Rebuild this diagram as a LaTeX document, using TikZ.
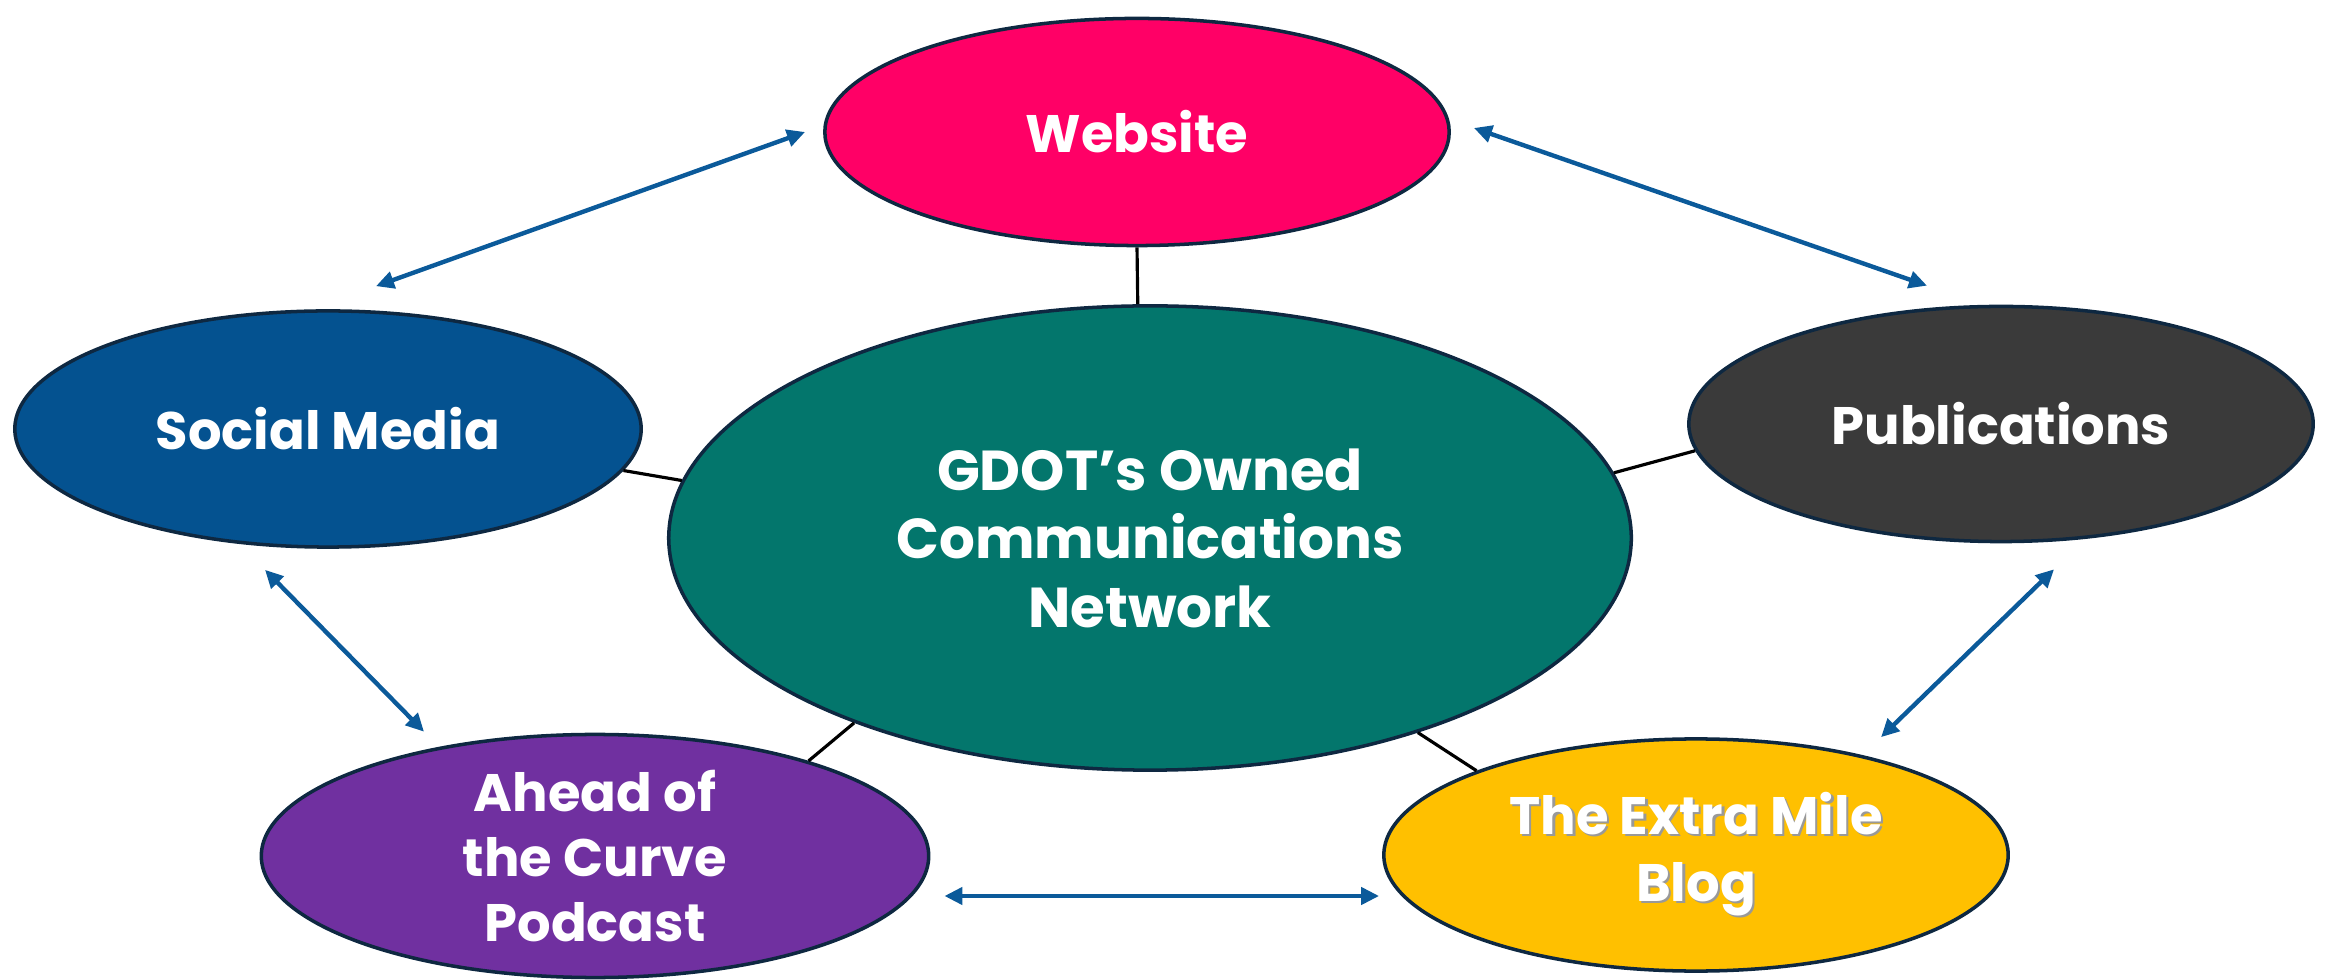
\documentclass[tikz,border=0pt]{standalone}
\usepackage{fontspec}
\setmainfont{Poppins}
\usepackage{tikz}
\usetikzlibrary{
  arrows.meta,
  shapes.geometric,
  positioning
}
\definecolor{gcWeb}{HTML}{FF0066}
\definecolor{gcSocial}{HTML}{045290}
\definecolor{gcPub}{HTML}{3A3A3A}
\definecolor{gcHub}{HTML}{03766C}
\definecolor{gcPod}{HTML}{7030A0}
\definecolor{gcBlog}{HTML}{FFC000}
\definecolor{gcEdge}{HTML}{0E2841}
\definecolor{gcArrow}{HTML}{0B5A9A}
\newcommand\gcshadow[1]{\makebox[0pt][l]{\hspace{0.7pt}\raisebox{-0.7pt}{\textcolor{black!40}{#1}}}#1}
\tikzset{
  gcnode/.style={
    draw=gcEdge, ellipse, line width=1pt, inner sep=0pt, align=center,
    text=white, font=\fontsize{15}{19}\selectfont\bfseries,
    minimum width=6.24cm, minimum height=2.3cm
  },
  hub/.style={gcnode, fill=gcHub, minimum width=9.62cm, minimum height=4.64cm,
    font=\fontsize{16}{19.5}\selectfont\bfseries},
  link/.style={line width=0.9pt, black},
  twoway/.style={{Triangle[length=1.8mm, width=1.7mm]}-{Triangle[length=1.8mm, width=1.7mm]},
    line width=1.25pt, gcArrow}
}
\begin{document}
\begin{tikzpicture}[x=0.01cm, y=-0.01cm]
  \useasboundingbox (0,0) rectangle (2331,980);
  \node[hub] (hub) at (1150,538) {GDOT’s Owned\\Communications\\Network};
  \node[gcnode, fill=gcWeb, minimum height=2.27cm] (web) at (1137,132) {Website};
  \node[gcnode, fill=gcSocial, minimum width=6.26cm, minimum height=2.36cm] (social) at (328,429) {Social Media};
  \node[gcnode, fill=gcPub, minimum height=2.35cm] (pub) at (2001,424) {Publications};
  \node[gcnode, fill=gcPod, minimum width=6.67cm, minimum height=2.38cm,
    font=\fontsize{15}{18.5}\selectfont\bfseries] (pod) at (595,856) {Ahead of\\the Curve\\Podcast};
  \node[gcnode, fill=gcBlog, minimum height=2.32cm] (blog) at (1696,855) {\gcshadow{The Extra Mile}\\\gcshadow{Blog}};
  % spokes to the hub
  \draw[link] (web.-90) -- (hub.93);
  \draw[link] (social.-8) -- (hub.173);
  \draw[link] (pub.185) -- (hub.8);
  \draw[link] (pod.24) -- (hub.-148);
  \draw[link] (blog.159) -- (hub.-36);
  % two-way flows round the ring
  \draw[twoway] ([shift={(-18,0)}]web.west) -- ([shift={(48,-23)}]social.north);
  \draw[twoway] ([shift={(23,-4)}]web.east) -- ([shift={(-74,-19)}]pub.north);
  \draw[twoway] ([shift={(-63,21)}]social.south) -- ([shift={(-171,-1)}]pod.north);
  \draw[twoway] ([shift={(53,26)}]pub.south) -- ([shift={(185,0)}]blog.north);
  \draw[twoway] ([shift={(14,40)}]pod.east) -- ([shift={(-3,41)}]blog.west);
\end{tikzpicture}
\end{document}
